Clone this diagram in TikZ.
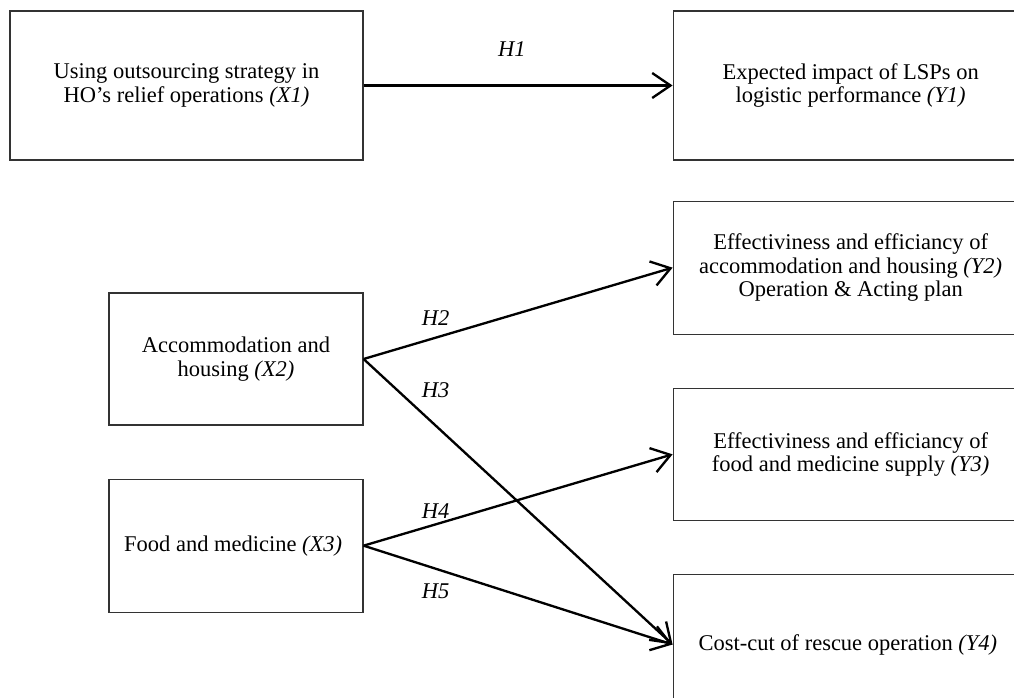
\documentclass[tikz,border=0pt]{standalone}
\usepackage{fontspec}
\setmainfont{Liberation Serif}
\usepackage{tikz}
\usetikzlibrary{arrows.meta, positioning}

\begin{document}
\begin{tikzpicture}[
            x=0.6pt, y=-0.6pt,                 % one unit = one pixel of the layout
            every node/.style={font=\fontsize{13.5}{14}\selectfont},
            box/.style={
                rectangle,
                draw=black!80,
                line width=0.7pt,
                align=center,
                inner sep=0pt
            },
            xbox/.style={
                box,
                minimum width=152.4pt,
                minimum height=79.2pt
            },
            ybox/.style={
                box,
                minimum width=213pt,
                minimum height=79.2pt
            },
            hyp/.style={
                font=\fontsize{13.5}{14}\selectfont\itshape,
                inner sep=0pt
            },
            link/.style={
                draw,
                line width=1.4pt,
                -{Straight Barb[length=11pt, width=15pt, line width=1.4pt]}
            }
        ]
            \path[use as bounding box, clip] (0,0) rectangle (1014,697);

            % --- INDEPENDENT VARIABLES ---
            \node [box, minimum width=211.8pt, minimum height=89.4pt] (x1) at (186.5,85.5) {
                Using outsourcing strategy in \\
                HO's relief operations \textit{(X1)}
            };

            \node [xbox] (x2) at (236,359) {
                Accommodation and \\
                housing \textit{(X2)}
            };

            \node [xbox, minimum height=79.8pt, below=31.8pt of x2] (x3) {
                Food and medicine \textit{(X3)}
            };

            % --- DEPENDENT VARIABLES ---
            \node [ybox, minimum height=89.4pt, right=185.4pt of x1] (y1) {
                Expected impact of LSPs on \\
                logistic performance \textit{(Y1)}
            };

            \node [ybox, minimum height=79.8pt, below=24pt of y1] (y2) {
                Effectiviness and efficiancy of \\
                accommodation and housing \textit{(Y2)} \\
                Operation \& Acting plan
            };

            \node [ybox, below=31.8pt of y2] (y3) {
                Effectiviness and efficiancy of \\
                food and medicine supply \textit{(Y3)}
            };

            \node [ybox, minimum height=84pt, below=31.8pt of y3] (y4) {
                Cost-cut of rescue operation \textit{(Y4)}
            };

            % --- HYPOTHESES ---
            \path [link] (x1.east) -- node[hyp, pos=0.48, yshift=21.6pt] {H1} (y1.west);
            \path [link] (x2.east) -- node[hyp, pos=0.233, yshift=12pt] {H2} (y2.west);
            \path [link] (x2.east) -- node[hyp, pos=0.233, yshift=21pt] {H3} (y4.west);
            \path [link] (x3.east) -- node[hyp, pos=0.233, yshift=7.8pt] {H4} (y3.west);
            \path [link] (x3.east) -- node[hyp, pos=0.233, yshift=-13.8pt] {H5} (y4.west);
        \end{tikzpicture}
\end{document}
